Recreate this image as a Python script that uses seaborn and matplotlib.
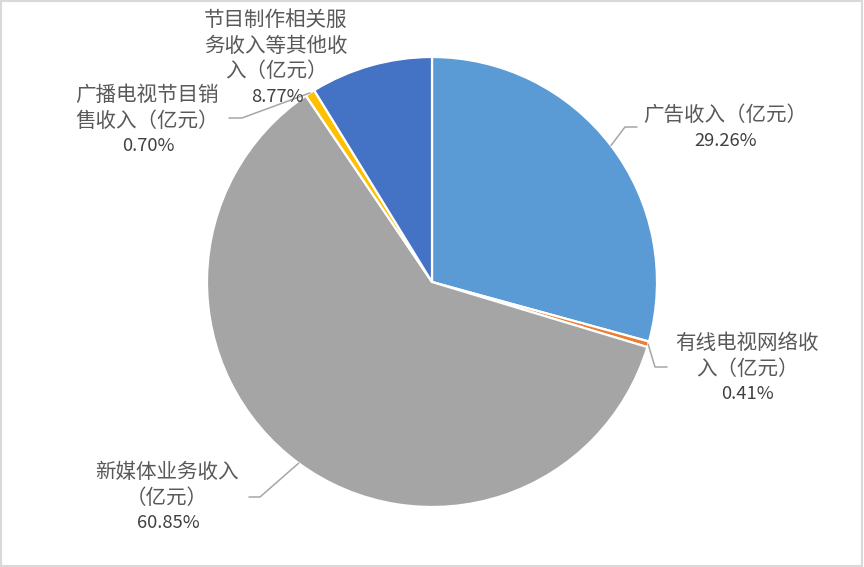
"""
收入构成饼图
"""
import numpy as np
import matplotlib
matplotlib.use('Agg')
import matplotlib.pyplot as plt
from matplotlib.patches import Rectangle
import seaborn as sns

# 数据
categories = ['广告收入（亿元）', '有线电视网络收入（亿元）', '新媒体业务收入（亿元）',
              '广播电视节目销售收入（亿元）', '节目制作相关服务收入等其他收入（亿元）']
shares = [29.26, 0.41, 60.85, 0.70, 8.77]
label_lines = [
    ['广告收入（亿元）'],
    ['有线电视网络收', '入（亿元）'],
    ['新媒体业务收入', '（亿元）'],
    ['广播电视节目销', '售收入（亿元）'],
    ['节目制作相关服', '务收入等其他收', '入（亿元）'],
]
colors = ['#5B9BD5', '#ED7D31', '#A5A5A5', '#FFC000', '#4472C4']

sns.set_theme(style='white')
plt.rcParams['font.family'] = ['Noto Sans CJK SC', 'DejaVu Sans']

W, H = 864, 567
CX, CY, R = 432, 282, 225


def px(x, y):
    """像素坐标 -> 数据坐标（半径=1）"""
    return (x - CX) / R, (CY - y) / R


fig = plt.figure(figsize=(W / 100, H / 100), dpi=100)
ax = fig.add_axes([0, 0, 1, 1])
wedges, _ = ax.pie(shares, colors=colors, startangle=90, counterclock=False,
                   radius=1, wedgeprops=dict(edgecolor='white', linewidth=1.6))
ax.set_xlim(-CX / R, (W - CX) / R)
ax.set_ylim(-(H - CY) / R, CY / R)
ax.axis('off')

# 标签位置 (中心x, 首行y)、引线拐点 (像素)
label_pos = [(725, 115), (747, 343), (167, 472), (147, 95), (276, 20)]
elbows = [[(625, 127), (637, 127)],
          [(655, 367), (667, 367)],
          [(260, 497), (249, 497)],
          [(242, 118), (229, 118)],
          None]
line_h = 25.7

for w, lines, pct, (lx, ly), elb in zip(wedges, label_lines, shares, label_pos, elbows):
    for i, t in enumerate(lines):
        ax.text(*px(lx, ly + i * line_h), t, ha='center', va='center',
                fontsize=14.8, color='#595959', fontweight='light')
    ax.text(*px(lx + 1, ly + len(lines) * line_h), f'{pct:.2f}%', ha='center', va='center',
            fontsize=13.2, color='#404040')
    if elb is not None:
        ang = np.deg2rad((w.theta1 + w.theta2) / 2)
        xs = [np.cos(ang)] + [px(*p)[0] for p in elb]
        ys = [np.sin(ang)] + [px(*p)[1] for p in elb]
        ax.plot(xs, ys, color='#A6A6A6', lw=1.1)

fig.patches.append(Rectangle((0.001, 0.001), 0.997, 0.997, transform=fig.transFigure,
                             fill=False, edgecolor='#D9D9D9', linewidth=1.5))
fig.savefig('out.png', dpi=100)
